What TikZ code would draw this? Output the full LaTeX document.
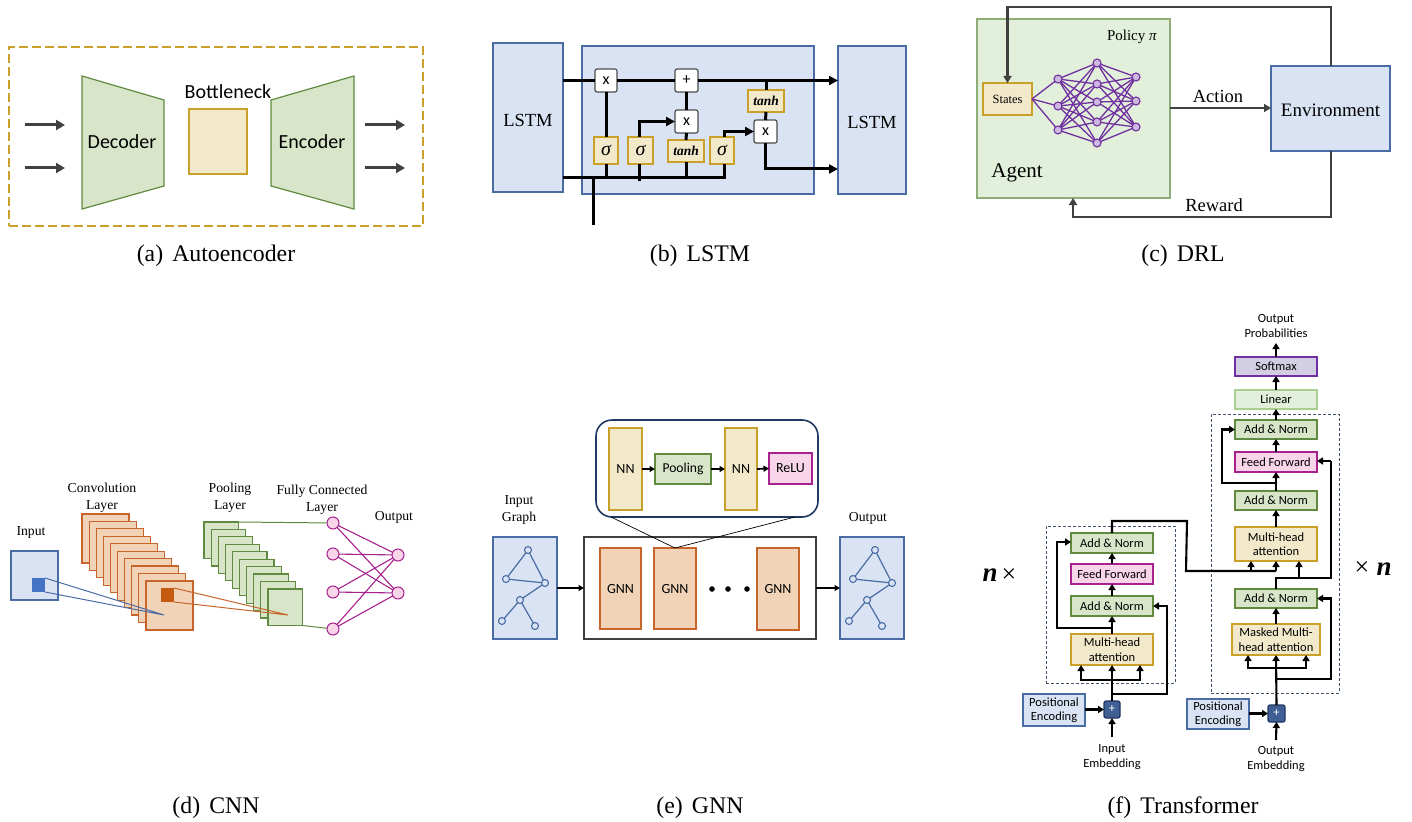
\documentclass[tikz,border=0pt]{standalone}
\usepackage{fontspec}
\setmainfont{Liberation Serif}
\newfontfamily\carl{Carlito}
\usetikzlibrary{arrows.meta,calc}
\definecolor{bF}{HTML}{DAE3F3}\definecolor{bS}{HTML}{4A6CA5}
\definecolor{gF}{HTML}{D8E5C8}\definecolor{gS}{HTML}{5F8A3F}
\definecolor{lF}{HTML}{E2EFDA}\definecolor{lS}{HTML}{A9CF90}
\definecolor{yF}{HTML}{F2E9CB}\definecolor{yS}{HTML}{C8A02A}
\definecolor{oF}{HTML}{F1D4B8}\definecolor{oS}{HTML}{C8652A}
\definecolor{pF}{HTML}{F8D5E8}\definecolor{pS}{HTML}{A8218E}
\definecolor{vF}{HTML}{D2CFE4}\definecolor{vS}{HTML}{7030A0}
\definecolor{nS}{HTML}{7030A0}\definecolor{nF}{HTML}{CDB9E0}
\definecolor{dk}{HTML}{404040}\definecolor{nv}{HTML}{1F3864}
\definecolor{dsh}{HTML}{44546A}
\definecolor{insqc}{HTML}{4472C4}\definecolor{cvsqc}{HTML}{C55A11}
\newcommand{\fsz}[1]{\fontsize{#1}{#1}\selectfont}
\newcommand{\bx}[7]{\node[#6,minimum width={#4-#2},minimum height={#5-#3}] (#1) at ({(#2+#4)/2},{(#3+#5)/2}) {#7};}
\tikzset{
 base/.style={inner sep=0pt,outer sep=0pt,align=center,line width=1.2pt},
 bbox/.style={base,draw=bS,fill=bF},
 gbox/.style={base,draw=gS,fill=gF},
 lbox/.style={base,draw=lS,fill=lF},
 ybox/.style={base,draw=yS,fill=yF},
 obox/.style={base,draw=oS,fill=oF},
 pbox/.style={base,draw=pS,fill=pF},
 vbox/.style={base,draw=vS,fill=vF},
 op/.style={base,draw=black!70,fill=white,rounded corners=2pt,font=\carl\fsz{16}},
 lab/.style={inner sep=0pt,outer sep=0pt,align=center},
 cal/.style={lab,font=\carl\fsz{20}},
 tx/.style={lab,font=\fsz{18.5}},
 sm/.style={lab,font=\fsz{13.7}},
 tf/.style={font=\carl\fsz{12.5}},
 capt/.style={lab,anchor=base,font=\fsz{23.8}},
 ar/.style={-{Triangle[length=9pt,width=10pt]},line width=3pt,dk},
 lk/.style={-{Triangle[length=9pt,width=9pt]},line width=3pt,black},
 ln/.style={line width=3pt,black},
 gr/.style={line width=2.6pt,dk},
 grA/.style={gr,-{Triangle[length=7pt,width=8pt]}},
 tl/.style={line width=2.1pt,black},
 ta/.style={tl,-{Triangle[length=6pt,width=7pt]}},
 sg/.style={font=\itshape\fsz{20}},
 th/.style={font=\bfseries\itshape\fsz{13.5}},
 dbox/.style={dash pattern=on 3pt off 2pt,line width=.8pt,draw=dsh},
 nnode/.style={circle,draw=nS,fill=nF,line width=1.1pt,minimum size=8pt,inner sep=0pt,outer sep=0pt},
 fcn/.style={circle,draw=pS,fill=pF,line width=1pt,minimum size=12pt,inner sep=0pt,outer sep=0pt},
 gnode/.style={circle,draw=bS,fill=bF,line width=1.1pt,minimum size=7pt,inner sep=0pt,outer sep=0pt},
 gedge/.style={line width=1.2pt,draw=bS},
 sar/.style={-{Triangle[length=5.5pt,width=6pt]},line width=1.7pt,black},
 nnl/.style={nS,line width=1.3pt},
 fcl/.style={pS,line width=1.1pt},
}
\begin{document}
\begin{tikzpicture}[x=1pt,y=-1pt]
\useasboundingbox (0,0) rectangle (1412,821);
% ---------- (a)
\node[draw=yS,line width=2.4pt,dash pattern=on 9pt off 4pt,inner sep=0,outer sep=0,minimum width=414pt,minimum height=179pt] (frame) at (216,136.5) {};
\draw[gS,fill=gF,line width=1.2pt] (82,76) -- (164,100) -- (164,186) -- (82,209) -- cycle;
\draw[gS,fill=gF,line width=1.2pt] (271,100) -- (354,76) -- (354,209) -- (271,186) -- cycle;
\node[cal] (dec) at (122,142) {Decoder};
\node[cal] (enc) at (312,142) {Encoder};
\bx{bneck}{189}{109}{247}{174}{ybox}{}
\node[cal] (bnl) at (228,92) {Bottleneck};
\coordinate (ai1) at (25,125);\coordinate (ai1e) at (65,125);
\coordinate (ai2) at (25,168);\coordinate (ai2e) at (65,168);
\coordinate (ao1) at (365,125);\coordinate (ao1e) at (405,125);
\coordinate (ao2) at (365,168);\coordinate (ao2e) at (405,168);
\draw[ar] (ai1) -- (ai1e);\draw[ar] (ai2) -- (ai2e);
\draw[ar] (ao1) -- (ao1e);\draw[ar] (ao2) -- (ao2e);
\node[capt] (capa) at (216,261) {(a)\hspace{.38em}Autoencoder};
% ---------- (b)
\bx{cell}{582}{46}{814}{194}{bbox}{}
\bx{lstmL}{493}{43}{563}{192}{bbox}{\fsz{18.5}\rule{0pt}{19pt}LSTM}
\bx{lstmR}{838}{46}{906}{194}{bbox}{\fsz{18.5}\rule{0pt}{17pt}LSTM}
\bx{xa}{595}{69}{617}{92}{op}{x}
\bx{plus}{675}{69}{698}{92}{op}{+}
\bx{xb}{675}{110}{698}{133}{op}{x}
\bx{xc}{754}{120}{777}{143}{op}{x}
\bx{sa}{594}{137}{618}{164}{ybox,sg}{σ}
\bx{sb}{628}{137}{653}{164}{ybox,sg}{σ}
\bx{tb}{668}{140}{704}{162}{ybox,th}{tanh}
\bx{sc}{710}{137}{734}{164}{ybox,sg}{σ}
\bx{tc}{748}{90}{784}{112}{ybox,th}{tanh}
\coordinate (bus) at (563,178);
\coordinate (busE) at (724,178);
\coordinate (inB) at (593,225);
\coordinate (sbS) at (639,181);
\draw[ln] (lstmL.east |- xa) -- (xa.west);
\draw[ln] (xa.east) -- (plus.west);
\draw[lk] (plus.east) -- (lstmR.west |- plus);
\draw[ln] (xa.south) -- (sa.north);
\draw[ln] (sa.south) -- (sa.south |- bus);
\draw[ln] (sbS) -- (sbS |- sb.south);
\draw[ln] (tb.south) -- (tb.south |- bus);
\draw[ln] (tb.north) -- (xb.south);
\draw[ln] (xb.north) -- (plus.south);
\draw[lk] (sbS |- sb.north) |- (xb.west);
\draw[ln,line join=miter] (bus) -- (busE) -- (busE |- sc.south);
\draw[lk] (busE |- sc.north) |- (xc.west);
\draw[ln] (inB) -- (inB |- bus);
\draw[ln] (tc.north) -- (tc.north |- plus);
\draw[ln] (tc.south) -- (xc.north);
\coordinate (xcOut) at (lstmR.west |- 0,169);
\draw[lk] (xc.south) |- (xcOut);
\node[capt] (capb) at (700,261) {(b)\hspace{.38em}LSTM};
% ---------- (c)
\bx{agent}{977}{19}{1170}{198}{base,draw=gS!70,fill=lF}{}
\bx{env}{1271}{66}{1390}{151}{bbox}{\fsz{19}\rule{0pt}{17pt}Environment}
\bx{states}{983}{83}{1032}{115}{ybox}{\fsz{12.5}States}
\node[lab,font=\fsz{15}] (pol) at (1132,37) {Policy \textit{π}};
\node[tx,font=\fsz{21}] (agl) at (1017,173) {Agent};
\node[tx] (acl) at (1218,96) {Action};
\node[tx] (rwl) at (1214,205) {Reward};
\foreach \n/\y in {1/79,2/106,3/130} \node[nnode] (na\n) at (1058,\y) {};
\foreach \n/\y in {1/63,2/84,3/102,4/122,5/143} \node[nnode] (nb\n) at (1097,\y) {};
\foreach \n/\y in {1/77,2/101,3/127} \node[nnode] (nc\n) at (1136,\y) {};
\foreach \a in {1,2,3}{
  \draw[nnl] (states.east) -- (na\a);
  \foreach \b in {1,...,5}{
    \draw[nnl] (na\a) -- (nb\b);
    \draw[nnl] (nb\b) -- (nc\a);
  }
}
\coordinate (topR) at (1331,7);
\coordinate (botR) at (1331,217);
\coordinate (agB) at (1073,198);
\draw[grA,line join=miter] (env.north -| topR) -- (topR) -- (topR -| states.north) -- (states.north);
\draw[grA] (agent.east |- 0,108) -- (env.west |- 0,108);
\draw[grA,line join=miter] (env.south -| botR) -- (botR) -- (botR -| agB) -- (agB);
\node[capt] (capc) at (1183,261) {(c)\hspace{.38em}DRL};
% ---------- (d)
\bx{inbox}{11}{551}{58}{600}{bbox}{}
\foreach \i in {0,...,9}{
  \node[obox,minimum width=47pt,minimum height=49pt,anchor=north west] (cv\i) at ({82+7.11*\i},{514+7.44*\i}) {};
}
\foreach \i in {0,...,9}{
  \node[gbox,minimum width=34.5pt,minimum height=36.5pt,anchor=north west] (pl\i) at ({204+7.11*\i},{522+7.44*\i}) {};
}
\bx{insq}{32}{578}{45}{592}{base,fill=insqc}{}
\bx{cvsq}{161}{588}{174}{602}{base,fill=cvsqc}{}
\coordinate (apexB) at (164,615);
\coordinate (apexO) at (288,615);
\draw[bS,line width=1pt] (insq.north east) -- (apexB) -- (insq.south east);
\draw[oS,line width=1pt] (cvsq.north east) -- (apexO) -- (cvsq.south east);
\foreach \n/\y in {1/523,2/554,3/592,4/629} \node[fcn] (fc\n) at (333,\y) {};
\foreach \n/\y in {1/555,2/593} \node[fcn] (ou\n) at (398,\y) {};
\foreach \a in {1,...,4}\foreach \b in {1,2} \draw[fcl] (fc\a) -- (ou\b);
\draw[gS,line width=1pt] (pl0.north east) -- (fc1);
\draw[gS,line width=1pt] (pl9.south east) -- (fc4);
\node[sm] (tin) at (31,532.5) {Input};
\node[sm] (tcv) at (102,497.5) {Convolution\\[3.3pt]Layer};
\node[sm] (tpl) at (230,497.5) {Pooling\\[3.3pt]Layer};
\node[sm] (tfc) at (322,500) {Fully Connected\\[3.3pt]Layer};
\node[sm] (tou) at (394,517.5) {Output};
\node[capt] (capd) at (216,813) {(d)\hspace{.38em}CNN};
% ---------- (e)
\bx{zoomb}{596}{420}{818}{517}{base,draw=nv,fill=white,line width=1.6pt,rounded corners=16pt}{}
\bx{main}{584}{537}{816}{639}{base,draw=dk,fill=white}{}
\bx{ga}{600}{548}{641}{629}{obox,font=\carl\fsz{14}}{GNN}
\bx{gb}{654}{548}{696}{629}{obox,font=\carl\fsz{14}}{GNN}
\bx{gc}{757}{548}{799}{630}{obox,font=\carl\fsz{14}}{GNN}
\bx{nna}{609}{428}{642}{510}{ybox,font=\carl\fsz{14}}{NN}
\bx{poo}{655}{454}{711}{484}{gbox,font=\carl\fsz{13.6}}{Pooling}
\bx{nnb}{725}{428}{757}{510}{ybox,font=\carl\fsz{14}}{NN}
\bx{rel}{769}{453}{812}{484}{pbox,font=\carl\fsz{14}}{ReLU}
\draw[sar] (nna.east |- poo) -- (poo.west);
\draw[sar] (poo.east) -- (nnb.west |- poo);
\draw[sar] (nnb.east |- poo) -- (rel.west);
\coordinate (zl) at (611,517);\coordinate (zr) at (795,517);
\draw[black,line width=.7pt] (zl) -- (gb.north) -- (zr);
\foreach \x/\n in {712/1,728/2,747/3} \fill (\x,589) circle (2.8pt);
\bx{gin}{493}{537}{557}{639}{bbox}{}
\bx{gou}{840}{537}{904}{639}{bbox}{}
\foreach \o/\p in {0/i,347/o}{
  \node[gnode] (\p1) at (528+\o,550) {};
  \node[gnode] (\p2) at (506+\o,579) {};
  \node[gnode] (\p3) at (545+\o,583) {};
  \node[gnode] (\p4) at (520+\o,600) {};
  \node[gnode] (\p5) at (502+\o,621) {};
  \node[gnode] (\p6) at (535+\o,626) {};
  \draw[gedge] (\p1)--(\p2) (\p1)--(\p3) (\p2)--(\p3) (\p3)--(\p4) (\p4)--(\p5) (\p4)--(\p6);
}
\draw[sar] (gin.east |- 0,588) -- (main.west |- 0,588);
\draw[sar] (main.east |- 0,588) -- (gou.west |- 0,588);
\node[sm] (tig) at (519,509.5) {Input\\[3.3pt]Graph};
\node[sm] (tog) at (868,518.5) {Output};
\node[capt] (cape) at (700,813) {(e)\hspace{.38em}GNN};
% ---------- (f)
\bx{dl}{1046}{526}{1175}{683}{dbox,inner sep=0,outer sep=0}{}
\bx{dr}{1211}{414}{1339}{693}{dbox,inner sep=0,outer sep=0}{}
\bx{lan}{1071}{533}{1153}{553}{gbox,tf}{Add \& Norm}
\bx{lff}{1071}{564}{1153}{584}{pbox,tf}{Feed Forward}
\bx{lbn}{1071}{596}{1153}{616}{gbox,tf}{Add \& Norm}
\bx{lmh}{1071}{634}{1153}{665}{ybox,tf}{Multi-head\\[2pt]attention}
\bx{lpl}{1104}{701}{1120}{718}{base,draw=nv,fill=bS!75!nv,rounded corners=2pt,text=white,tf}{+}
\bx{lpe}{1023}{694}{1085}{726}{bbox,tf}{Positional\\[2pt]Encoding}
\node[lab,tf] (lemb) at (1112,757.5) {Input\\[2.5pt]Embedding};
\bx{rsm}{1235}{357}{1317}{376}{vbox,tf}{Softmax}
\bx{rli}{1235}{390}{1317}{409}{lbox,tf}{Linear}
\bx{ran}{1235}{420}{1317}{439}{gbox,tf}{Add \& Norm}
\bx{rff}{1235}{452}{1317}{472}{pbox,tf}{Feed Forward}
\bx{rbn}{1235}{491}{1317}{510}{gbox,tf}{Add \& Norm}
\bx{rmh}{1235}{527}{1317}{561}{ybox,tf}{Multi-head\\[2pt]attention}
\bx{rcn}{1235}{589}{1317}{608}{gbox,tf}{Add \& Norm}
\bx{rmm}{1232}{624}{1320}{655}{ybox,tf}{Masked Multi-\\[2pt]head attention}
\bx{rpl}{1268}{705}{1285}{722}{base,draw=nv,fill=bS!75!nv,rounded corners=2pt,text=white,tf}{+}
\bx{rpe}{1187}{699}{1249}{729}{bbox,tf}{Positional\\[2pt]Encoding}
\node[lab,tf] (remb) at (1276,759.5) {Output\\[2.5pt]Embedding};
\node[lab,tf] (rprob) at (1276,325.5) {Output\\[2.5pt]Probabilities};
% left tower connectors
\coordinate (lembT) at (1112,737);
\coordinate (lbr) at (1112,680);
\coordinate (lsd) at (1112,694);
\coordinate (lres) at (1112,628);
\coordinate (lcross) at (1187,521);
\draw[ta] (lembT) -- (lpl.south);
\draw[ta] (lpe.east |- lpl) -- (lpl.west);
\draw[ta] (lpl.north) -- (lmh.south);
\draw[ta] (lbr) -| (1081,665);
\draw[ta] (lbr) -| (1140,665);
\draw[ta] (lsd) -| (1167,650) |- (lbn.east);
\draw[ta] (lmh.north) -- (lbn.south);
\draw[ta] (lres) -| (1057,560) |- (1071,542);
\draw[ta] (lbn.north) -- (lff.south);
\draw[ta] (lff.north) -- (lan.south);
\coordinate (rmL) at (1251,561);
\coordinate (rmR) at (1299,561);
\coordinate (rmC) at (1276,561);
\coordinate (rcrossB) at (1186,571);
\draw[tl,line join=miter] (lan.north) -- (lan.north |- lcross) -- (lcross) -- (rcrossB) -- (rcrossB -| rmC);
\draw[ta] (rmL |- rcrossB) -- (rmL);
\draw[ta] (rmC |- rcrossB) -- (rmC);
% right tower connectors
\coordinate (rembT) at (1276,740);
\coordinate (rbr) at (1276,668);
\coordinate (rsd) at (1276,679);
\coordinate (rres) at (1276,483);
\coordinate (rup) at (1276,578);
\draw[ta] (rembT) -- (rpl.south);
\draw[ta] (rpe.east |- rpl) -- (rpl.west);
\draw[ta] (rpl.north) -- (rmm.south);
\draw[ta] (rbr) -| (1248,655);
\draw[ta] (rbr) -| (1306,655);
\draw[ta] (rsd) -| (1331,640) |- (rcn.east);
\draw[ta] (rmm.north) -- (rcn.south);
\draw[tl,line join=miter] (rcn.north) -- (rup) -- (1331,578) -- (1331,461);
\draw[ta] (1331,461) -- (rff.east |- 0,461);
\draw[ta] (rup -| rmR) -- (rmR);
\draw[ta] (rmh.north) -- (rbn.south);
\draw[ta] (rbn.north) -- (rff.south);
\draw[ta] (rres) -| (1222,440) |- (ran.west);
\draw[ta] (rff.north) -- (ran.south);
\draw[ta] (ran.north) -- (rli.south);
\draw[ta] (rli.north) -- (rsm.south);
\draw[ta] (rsm.north) -- (1276,343);
\node[lab,font=\bfseries\itshape\fsz{27}] (nl) at (990,575) {n};
\node[lab,font=\fsz{26}] (tl1) at (1009,576) {×};
\node[lab,font=\fsz{26}] (tl2) at (1362,569) {×};
\node[lab,font=\bfseries\itshape\fsz{27}] (nr) at (1384,569) {n};
\node[capt] (capf) at (1183,813) {(f)\hspace{.38em}Transformer};
\end{tikzpicture}
\end{document}
